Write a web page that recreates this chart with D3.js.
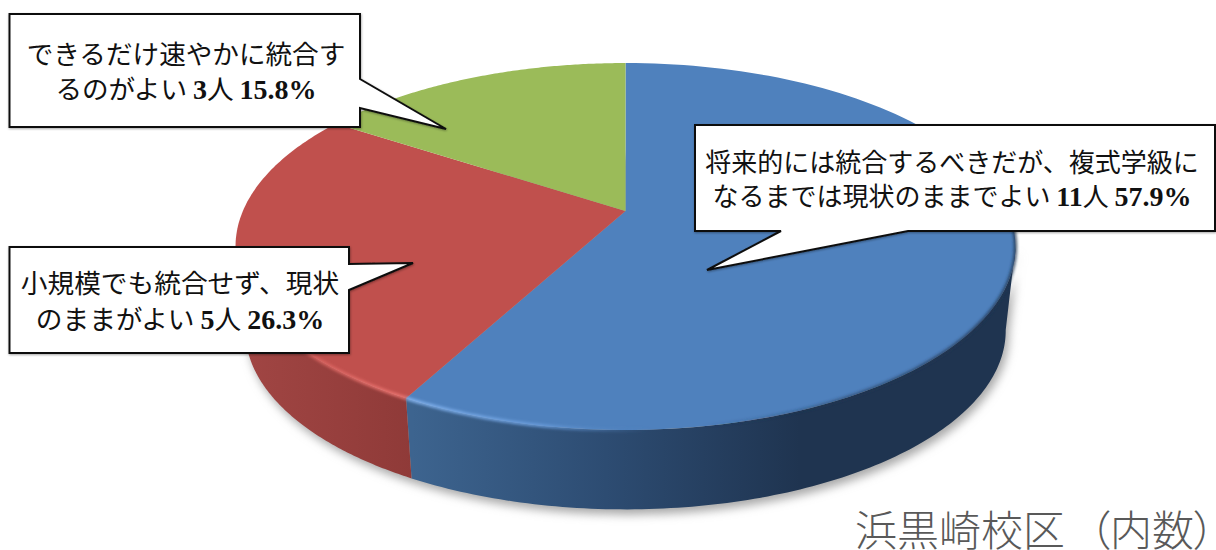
<!DOCTYPE html>
<html lang="ja">
<head>
<meta charset="utf-8">
<script src="https://cdn.jsdelivr.net/npm/d3@7/dist/d3.min.js"></script>
<style>
  html, body { margin: 0; padding: 0; background: #fff; overflow: hidden; }
  svg { display: block; }
  text { font-family: "Noto Sans CJK JP", "Noto Sans", sans-serif; }
</style>
</head>
<body>
<svg id="chart" width="1216" height="550"></svg>
<script>
// 浜黒崎校区の回答内訳
const categories = ["blue", "red", "green"];
const counts = [11, 5, 3];
const percents = ["57.9%", "26.3%", "15.8%"];
const labelLines = [
  ["将来的には統合するべきだが、複式学級に", "なるまでは現状のままでよい"],
  ["小規模でも統合せず、現状", "のままがよい"],
  ["できるだけ速やかに統合す", "るのがよい"]
];
const topColors = ["#4f81bd", "#c0504d", "#9bbb59"];
const titleName = "浜黒崎校区";
const titleNote = "（内数）";

// Tilted-disc geometry: a circle seen in perspective
const disc = { cx: 625.5, cy: 211, fx: 382.6, fy: 176.6, k: 0.1935, midY: 246.5, shrink: 0.975, depth: 84 };

const rimTop = a => {
  const u = Math.sin(a), v = -Math.cos(a), d = 1 - disc.k * v;
  return [disc.cx + disc.fx * u / d, disc.cy + disc.fy * v / d];
};
const rimBottom = a => {
  const [x, y] = rimTop(a);
  return [disc.cx + (x - disc.cx) * disc.shrink, disc.midY + (y - disc.midY) * disc.shrink + disc.depth];
};
const sample = (a0, a1) => d3.range(0, 121).map(i => a0 + (a1 - a0) * i / 120);
const line = d3.line();
const deg = d => d * Math.PI / 180;

const pie = d3.pie().sort(null)(counts);
const color = d3.scaleOrdinal(categories, topColors);
const svg = d3.select("#chart");
const defs = svg.append("defs");

defs.append("filter").attr("id", "soft").attr("x", "-10%").attr("y", "-10%").attr("width", "120%").attr("height", "125%")
  .append("feGaussianBlur").attr("stdDeviation", 5);
defs.append("filter").attr("id", "edge").attr("x", "-10%").attr("y", "-20%").attr("width", "120%").attr("height", "140%")
  .append("feGaussianBlur").attr("stdDeviation", 1.4);
defs.append("filter").attr("id", "boxShade").attr("x", "-5%").attr("y", "-5%").attr("width", "110%").attr("height", "110%")
  .append("feDropShadow").attr("dx", 0.5).attr("dy", 1).attr("stdDeviation", 0.8).attr("flood-color", "#000").attr("flood-opacity", 0.35);

function horizontalGradient(id, x1, x2, stops) {
  const g = defs.append("linearGradient").attr("id", id).attr("gradientUnits", "userSpaceOnUse")
    .attr("x1", x1).attr("x2", x2).attr("y1", 0).attr("y2", 0);
  stops.forEach(([o, c, a]) => g.append("stop").attr("offset", o).attr("stop-color", c).attr("stop-opacity", a === undefined ? 1 : a));
}
horizontalGradient("sideBlue", 412, 800, [[0, "#3d648f"], [0.5, "#2d4c72"], [1, "#1f3450"]]);
horizontalGradient("sideRed", 250, 413, [[0, "#a04543"], [1, "#8f3a38"]]);
horizontalGradient("lipBlue", 410, 650, [[0, "#86b6f2"], [0.55, "#6a9ddc"], [1, "#4f81bd", 0]]);
horizontalGradient("lipRed", 262, 410, [[0, "#c0504d", 0], [0.3, "#d9625e"], [1, "#f07a76"]]);
horizontalGradient("lipDark", 700, 1016, [[0, "#1f3450", 0], [0.5, "#1f3450", 0.6], [1, "#1f3450", 0.9]]);

// Wall segments run along the visible front of the rim
const frontStart = deg(101), frontEnd = deg(259);
const boundary = pie[0].endAngle;
const wall = (a0, a1) => {
  const pts = sample(a0, a1);
  return line(pts.map(rimTop).concat(pts.slice().reverse().map(rimBottom))) + "Z";
};

// Ground shadow
const shade = svg.append("g").attr("filter", "url(#soft)").attr("transform", "translate(3,5)");
shade.append("path").attr("d", wall(frontStart, frontEnd)).attr("fill", "#a8a8a8");
shade.append("path").attr("d", line(sample(0, 2 * Math.PI).map(rimBottom)) + "Z").attr("fill", "#a8a8a8");

// Side walls
svg.append("path").attr("d", wall(frontStart, boundary)).attr("fill", "url(#sideBlue)");
svg.append("path").attr("d", wall(boundary, frontEnd)).attr("fill", "url(#sideRed)");

// Top face slices
svg.append("g").selectAll("path").data(pie).join("path")
  .attr("d", d => {
    const pts = sample(d.startAngle, d.endAngle).map(rimTop);
    return line([[disc.cx, disc.cy], ...pts]) + "Z";
  })
  .attr("fill", (d, i) => color(categories[i]));

// Bevel along the front rim
const lip = (a0, a1, stroke, width) => svg.append("path")
  .attr("d", line(sample(a0, a1).map(rimTop)))
  .attr("fill", "none").attr("stroke", stroke).attr("stroke-width", width)
  .attr("filter", "url(#edge)");
lip(deg(150), boundary, "url(#lipBlue)", 3);
lip(boundary, frontEnd, "url(#lipRed)", 3);
lip(deg(85), deg(180), "url(#lipDark)", 3);

// Callouts: outline runs around the box and out to the tail tip
const callouts = [
  { slice: 0, box: [695, 125, 1215, 231], tail: [[781, 231], [707, 270], [908, 231]], edge: "bottom", tx: 952, ty: [172, 206], size: 26 },
  { slice: 1, box: [9.5, 247, 349, 353], tail: [[349, 264], [413, 263], [349, 290]], edge: "right", tx: 180, ty: [293, 329], size: 26.7 },
  { slice: 2, box: [9.5, 14, 360, 127], tail: [[360, 79], [446, 129], [360, 108]], edge: "right", tx: 186, ty: [64, 99], size: 26.6 }
];

callouts.forEach(c => {
  const [x0, y0, x1, y1] = c.box;
  const outline = c.edge === "bottom"
    ? [[x0, y0], [x1, y0], [x1, y1], [c.tail[2][0], y1], c.tail[1], c.tail[0], [x0, y1]]
    : [[x0, y0], [x1, y0], c.tail[0], c.tail[1], c.tail[2], [x1, y1], [x0, y1]];
  svg.append("path").attr("d", line(outline) + "Z")
    .attr("fill", "#fff").attr("stroke", "#111").attr("stroke-width", 2)
    .attr("stroke-linejoin", "miter").attr("filter", "url(#boxShade)");

  const texts = labelLines[c.slice];
  svg.append("text").attr("x", c.tx).attr("y", c.ty[0])
    .attr("text-anchor", "middle").attr("font-size", c.size).attr("fill", "#111").text(texts[0]);
  const second = svg.append("text").attr("x", c.tx).attr("y", c.ty[1])
    .attr("text-anchor", "middle").attr("font-size", c.size).attr("fill", "#111");
  second.append("tspan").text(texts[1] + " ");
  second.append("tspan").attr("font-family", "'Liberation Serif'").attr("font-weight", 700).attr("font-size", 28).text(counts[c.slice]);
  second.append("tspan").text("人 ");
  second.append("tspan").attr("font-family", "'Liberation Serif'").attr("font-weight", 700).attr("font-size", 28).text(percents[c.slice]);
});

// Chart title, bottom right; the bracketed note is set proportionally to stay inside the frame
const title = svg.append("text").attr("x", 855).attr("y", 546)
  .attr("font-size", 42).attr("font-weight", 300).attr("fill", "#595959");
title.append("tspan").text(titleName);
title.append("tspan").attr("dx", 24).style("font-feature-settings", "'palt'").text(titleNote);
</script>
</body>
</html>
